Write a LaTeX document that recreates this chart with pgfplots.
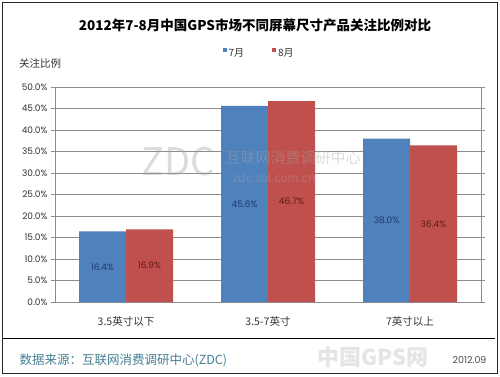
\documentclass[border=0pt]{standalone}
\usepackage{fontspec}
\usepackage{pgfplots}
\pgfplotsset{compat=1.18}
\setmainfont{Noto Sans CJK SC}
\newfontfamily\numfont{Poppins}
\definecolor{cblue}{HTML}{4F81BD}
\definecolor{cred}{HTML}{C0504D}
\definecolor{lblue}{HTML}{1F3A6E}
\definecolor{lred}{HTML}{5A1A18}
\definecolor{foot}{RGB}{70,128,148}
\begin{document}
\begin{tikzpicture}
\useasboundingbox (0pt,0pt) rectangle (500pt,376pt);
\fill[white] (0pt,0pt) rectangle (500pt,376pt);
\draw[line width=1pt, black!85] (2.5pt,3pt) rectangle (497pt,373pt);
\begin{axis}[
  at={(55pt,74pt)}, anchor=south west,
  scale only axis, width=426pt, height=215pt,
  ybar=0pt, bar width=47pt,
  xmin=-0.5, xmax=2.5, ymin=0, ymax=50,
  xtick={0,1,2},
  xticklabels={3.5英寸以下,3.5-7英寸,7英寸以上},
  xtick style={draw=none},
  xticklabel style={font=\fontsize{10.5}{12}\selectfont, text=black!80, yshift=-7pt},
  ytick={0,5,...,50},
  /pgf/number format/assume math mode=true,
  yticklabel={\pgfmathprintnumber[fixed,fixed zerofill,precision=1]{\tick}\%},
  yticklabel style={font=\numfont\fontsize{9}{10}\selectfont, text=black!80},
  ymajorgrids, grid style={black!45, line width=0.6pt},
  axis line style={black!45, line width=0.6pt},
  tick align=outside, major tick length=4pt,
  ytick style={black!45, line width=0.6pt},
  axis on top=false,
  legend style={at={(0.479,1.158)}, anchor=center, draw=none, fill=none,
    legend columns=2, font=\fontsize{10}{12}\selectfont, text=black!80,
    /tikz/every even column/.append style={column sep=26pt},
    legend cell align=left},
  legend image code/.code={\fill[#1] (0pt,1pt) rectangle (4pt,5pt);},
  visualization depends on=rawy \as \rawy,
  nodes near coords={\pgfmathprintnumber[fixed,fixed zerofill,precision=1]{\pgfplotspointmeta}\%},
  every node near coord/.append style={anchor=center, yshift=-\rawy*2.15pt, font=\numfont\fontsize{9}{10}\selectfont},
]
\addplot[fill=cblue, draw=none, every node near coord/.append style={text=lblue}] coordinates {(0,16.4) (1,45.6) (2,38.0)};
\addplot[fill=cred, draw=none, every node near coord/.append style={text=lred}] coordinates {(0,16.9) (1,46.7) (2,36.4)};
\legend{7月,8月}
\end{axis}
% watermark
\node[text=black!35, opacity=0.4, font=\fontsize{38}{40}\selectfont] at (178pt,214pt) {ZDC};
\node[text=black!35, opacity=0.4, font=\fontsize{15}{17}\selectfont] at (293pt,218pt) {互联网消费调研中心};
\node[text=black!35, opacity=0.4, font=\fontsize{12}{14}\selectfont] at (274pt,198pt) {zdc.zol.com.cn};
\node[anchor=east, text=black!10, font=\bfseries\fontsize{22}{24}\selectfont] at (432pt,19pt) {中国GPS网};
% texts
\node[font=\bfseries\fontsize{13.5}{16}\selectfont] at (255pt,351pt) {2012年7-8月中国GPS市场不同屏幕尺寸产品关注比例对比};
\node[font=\fontsize{10.5}{12}\selectfont, text=black!80] at (40pt,313pt) {关注比例};
\draw[black, line width=0.8pt] (2.5pt,38pt) -- (495pt,38pt);
\node[anchor=west, font=\fontsize{12.5}{14}\selectfont, text=foot] at (16pt,16pt) {数据来源：互联网消费调研中心(ZDC)};
\node[anchor=east, font=\numfont\fontsize{9.5}{11}\selectfont, text=black!70] at (490pt,16pt) {2012.09};
\end{tikzpicture}
\end{document}
